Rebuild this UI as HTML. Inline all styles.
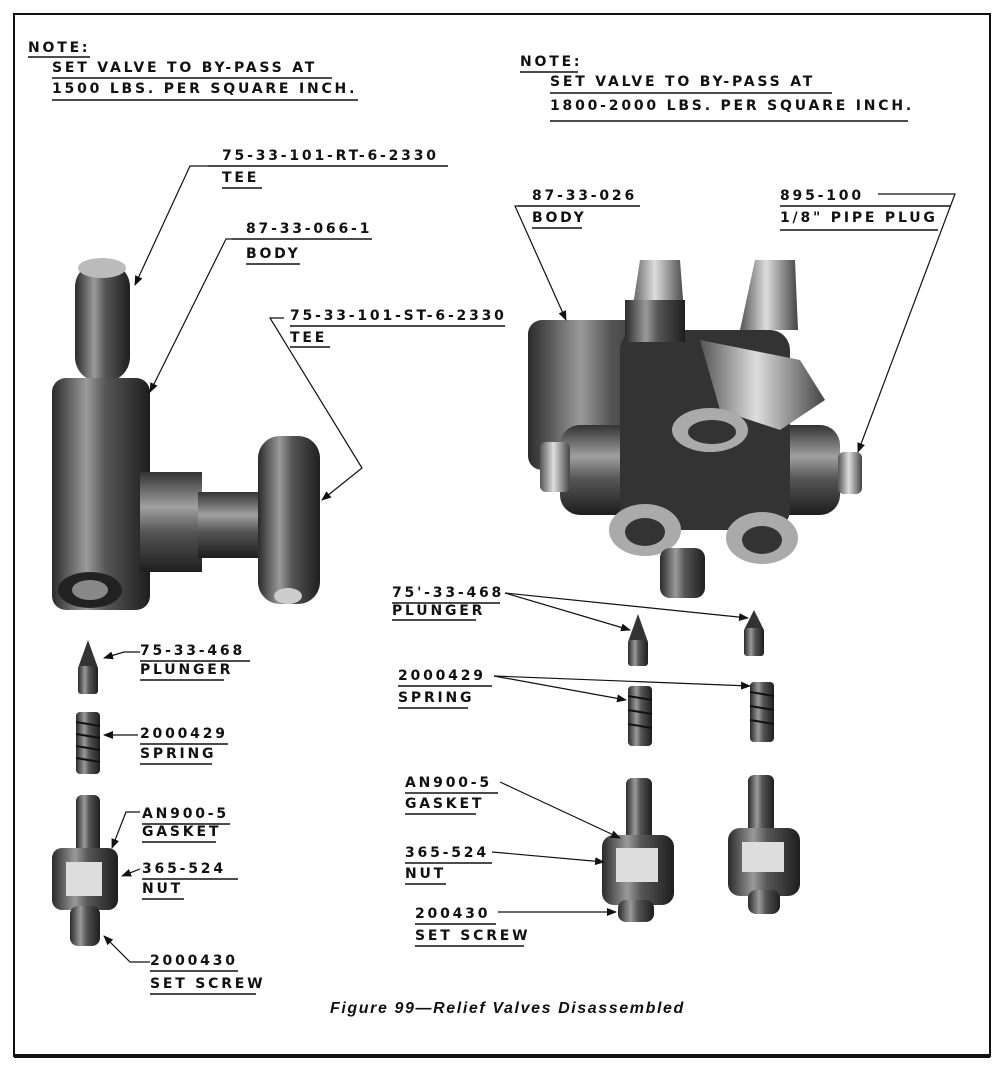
<!DOCTYPE html>
<html><head><meta charset="utf-8"><style>
html,body{margin:0;padding:0;background:#fff}
svg{display:block}
.t{font-family:"DejaVu Sans","Liberation Sans",sans-serif;font-weight:bold;font-size:14px;letter-spacing:2.8px;fill:#111}
.u{stroke:#111;stroke-width:1.6}
.l{stroke:#111;stroke-width:1.2;fill:none}
</style></head><body>
<svg width="1000" height="1091" viewBox="0 0 1000 1091" xmlns="http://www.w3.org/2000/svg">
<defs>
<linearGradient id="gv" x1="0" x2="1" y1="0" y2="0"><stop offset="0" stop-color="#2a2a2a"/><stop offset="0.35" stop-color="#9a9a9a"/><stop offset="0.55" stop-color="#555"/><stop offset="1" stop-color="#1e1e1e"/></linearGradient>
<linearGradient id="gh" x1="0" x2="0" y1="0" y2="1"><stop offset="0" stop-color="#333"/><stop offset="0.35" stop-color="#a0a0a0"/><stop offset="0.6" stop-color="#555"/><stop offset="1" stop-color="#1e1e1e"/></linearGradient>
<linearGradient id="gl" x1="0" x2="1" y1="0" y2="0"><stop offset="0" stop-color="#555"/><stop offset="0.45" stop-color="#ddd"/><stop offset="1" stop-color="#444"/></linearGradient>
<marker id="a" markerWidth="10" markerHeight="8" refX="9" refY="4" orient="auto" markerUnits="userSpaceOnUse"><path d="M0,0 L10,4 L0,8 Z" fill="#111"/></marker>
</defs>
<rect x="14" y="14" width="976" height="1042" fill="#fff" stroke="#111" stroke-width="2"/>
<line x1="14" y1="1056" x2="990" y2="1056" stroke="#111" stroke-width="4"/>

<text class="t" x="28" y="52">NOTE:</text><line class="u" x1="28" y1="57" x2="90" y2="57"/>
<text class="t" x="52" y="72">SET VALVE TO BY-PASS AT</text><line class="u" x1="52" y1="78" x2="332" y2="78"/>
<text class="t" x="52" y="93">1500 LBS. PER SQUARE INCH.</text><line class="u" x1="52" y1="100" x2="358" y2="100"/>

<text class="t" x="520" y="66">NOTE:</text><line class="u" x1="520" y1="72" x2="578" y2="72"/>
<text class="t" x="550" y="86">SET VALVE TO BY-PASS AT</text><line class="u" x1="550" y1="93" x2="832" y2="93"/>
<text class="t" x="550" y="110">1800-2000 LBS. PER SQUARE INCH.</text><line class="u" x1="550" y1="121" x2="908" y2="121"/>

<rect x="75" y="262" width="55" height="120" rx="25" fill="url(#gv)"/>
<ellipse cx="102" cy="268" rx="24" ry="10" fill="#bbb"/>
<rect x="52" y="378" width="98" height="232" rx="14" fill="url(#gv)"/>
<rect x="140" y="472" width="62" height="100" fill="url(#gh)"/>
<rect x="198" y="492" width="65" height="66" fill="url(#gh)"/>
<rect x="258" y="436" width="62" height="168" rx="22" fill="url(#gv)"/>
<ellipse cx="90" cy="590" rx="32" ry="18" fill="#222"/>
<ellipse cx="90" cy="590" rx="18" ry="10" fill="#888"/>
<ellipse cx="288" cy="596" rx="14" ry="8" fill="#ccc"/>

<text class="t" x="222" y="160">75-33-101-RT-6-2330</text><line class="u" x1="208" y1="166" x2="448" y2="166"/>
<text class="t" x="222" y="182">TEE</text><line class="u" x1="222" y1="188" x2="262" y2="188"/>
<polyline class="l" points="208,166 190,166 135,285" marker-end="url(#a)"/>
<text class="t" x="246" y="233">87-33-066-1</text><line class="u" x1="232" y1="239" x2="372" y2="239"/>
<text class="t" x="246" y="258">BODY</text><line class="u" x1="246" y1="264" x2="300" y2="264"/>
<polyline class="l" points="232,239 226,239 150,392" marker-end="url(#a)"/>
<text class="t" x="290" y="320">75-33-101-ST-6-2330</text><line class="u" x1="290" y1="326" x2="505" y2="326"/>
<text class="t" x="290" y="342">TEE</text><line class="u" x1="290" y1="347" x2="330" y2="347"/>
<polyline class="l" points="284,318 270,318 362,468 322,500" marker-end="url(#a)"/>

<path d="M78,668 L88,640 L98,668 Z" fill="#333"/><rect x="78" y="666" width="20" height="28" rx="3" fill="url(#gv)"/>
<rect x="76" y="712" width="24" height="62" rx="4" fill="url(#gv)"/>
<g stroke="#111" stroke-width="2"><line x1="76" y1="722" x2="100" y2="726"/><line x1="76" y1="734" x2="100" y2="738"/><line x1="76" y1="746" x2="100" y2="750"/><line x1="76" y1="758" x2="100" y2="762"/></g>
<rect x="76" y="795" width="24" height="60" rx="6" fill="url(#gv)"/>
<rect x="52" y="848" width="66" height="62" rx="10" fill="url(#gv)"/>
<rect x="66" y="862" width="36" height="34" fill="#ddd"/>
<rect x="70" y="906" width="30" height="40" rx="8" fill="url(#gv)"/>
<text class="t" x="140" y="655">75-33-468</text><line class="u" x1="140" y1="661" x2="250" y2="661"/>
<text class="t" x="140" y="674">PLUNGER</text><line class="u" x1="140" y1="680" x2="224" y2="680"/>
<polyline class="l" points="140,652 124,652 104,658" marker-end="url(#a)"/>
<text class="t" x="140" y="738">2000429</text><line class="u" x1="140" y1="744" x2="228" y2="744"/>
<text class="t" x="140" y="758">SPRING</text><line class="u" x1="140" y1="764" x2="212" y2="764"/>
<line class="l" x1="138" y1="735" x2="104" y2="735" marker-end="url(#a)"/>
<text class="t" x="142" y="818">AN900-5</text><line class="u" x1="142" y1="824" x2="230" y2="824"/>
<text class="t" x="142" y="836">GASKET</text><line class="u" x1="142" y1="842" x2="216" y2="842"/>
<polyline class="l" points="140,812 126,812 112,848" marker-end="url(#a)"/>
<text class="t" x="142" y="873">365-524</text><line class="u" x1="142" y1="879" x2="238" y2="879"/>
<text class="t" x="142" y="893">NUT</text><line class="u" x1="142" y1="899" x2="184" y2="899"/>
<line class="l" x1="140" y1="869" x2="122" y2="876" marker-end="url(#a)"/>
<text class="t" x="150" y="965">2000430</text><line class="u" x1="150" y1="971" x2="238" y2="971"/>
<text class="t" x="150" y="988">SET SCREW</text><line class="u" x1="150" y1="994" x2="256" y2="994"/>
<polyline class="l" points="150,962 130,962 104,936" marker-end="url(#a)"/>

<rect x="528" y="320" width="150" height="150" rx="14" fill="url(#gv)"/>
<rect x="560" y="425" width="280" height="90" rx="20" fill="url(#gh)"/>
<rect x="620" y="330" width="170" height="200" rx="20" fill="#333"/>
<rect x="540" y="442" width="30" height="50" rx="6" fill="url(#gl)"/>
<rect x="838" y="452" width="24" height="42" rx="6" fill="url(#gl)"/>
<path d="M640,260 L680,260 L685,325 L630,325 Z" fill="url(#gl)"/>
<rect x="625" y="300" width="60" height="42" fill="url(#gv)"/>
<path d="M755,260 L795,260 L798,330 L740,330 Z" fill="url(#gl)"/>
<path d="M700,340 L800,360 L825,400 L780,430 L720,410 Z" fill="url(#gl)"/>
<ellipse cx="710" cy="430" rx="38" ry="22" fill="#aaa"/><ellipse cx="712" cy="432" rx="24" ry="12" fill="#333"/>
<ellipse cx="645" cy="530" rx="36" ry="26" fill="#aaa"/><ellipse cx="645" cy="532" rx="20" ry="14" fill="#333"/>
<ellipse cx="762" cy="538" rx="36" ry="26" fill="#aaa"/><ellipse cx="762" cy="540" rx="20" ry="14" fill="#333"/>
<rect x="660" y="548" width="45" height="50" rx="10" fill="url(#gv)"/>

<text class="t" x="532" y="200">87-33-026</text><line class="u" x1="518" y1="206" x2="640" y2="206"/>
<text class="t" x="532" y="222">BODY</text><line class="u" x1="532" y1="228" x2="582" y2="228"/>
<polyline class="l" points="518,206 515,206 566,320" marker-end="url(#a)"/>
<text class="t" x="780" y="200">895-100</text><line class="u" x1="780" y1="206" x2="950" y2="206"/>
<text class="t" x="780" y="222">1/8" PIPE PLUG</text><line class="u" x1="780" y1="230" x2="938" y2="230"/>
<polyline class="l" points="878,194 955,194 858,452" marker-end="url(#a)"/>

<path d="M628,642 L638,614 L648,642 Z" fill="#333"/><rect x="628" y="640" width="20" height="26" rx="3" fill="url(#gv)"/>
<path d="M744,630 L754,610 L764,630 Z" fill="#333"/><rect x="744" y="628" width="20" height="28" rx="3" fill="url(#gv)"/>
<rect x="628" y="686" width="24" height="60" rx="4" fill="url(#gv)"/>
<rect x="750" y="682" width="24" height="60" rx="4" fill="url(#gv)"/>
<g stroke="#111" stroke-width="2"><line x1="628" y1="696" x2="652" y2="700"/><line x1="628" y1="710" x2="652" y2="714"/><line x1="628" y1="724" x2="652" y2="728"/><line x1="750" y1="692" x2="774" y2="696"/><line x1="750" y1="706" x2="774" y2="710"/><line x1="750" y1="720" x2="774" y2="724"/></g>
<rect x="626" y="778" width="26" height="62" rx="6" fill="url(#gv)"/>
<rect x="748" y="775" width="26" height="62" rx="6" fill="url(#gv)"/>
<rect x="602" y="835" width="72" height="70" rx="12" fill="url(#gv)"/>
<rect x="616" y="848" width="42" height="34" fill="#ddd"/>
<rect x="728" y="828" width="72" height="68" rx="12" fill="url(#gv)"/>
<rect x="742" y="842" width="42" height="30" fill="#ddd"/>
<rect x="618" y="900" width="36" height="22" rx="8" fill="url(#gv)"/>
<rect x="748" y="890" width="32" height="24" rx="8" fill="url(#gv)"/>

<text class="t" x="392" y="597">75'-33-468</text><line class="u" x1="392" y1="603" x2="500" y2="603"/>
<text class="t" x="392" y="615">PLUNGER</text><line class="u" x1="392" y1="620" x2="476" y2="620"/>
<line class="l" x1="505" y1="593" x2="630" y2="630" marker-end="url(#a)"/>
<line class="l" x1="505" y1="593" x2="748" y2="618" marker-end="url(#a)"/>
<text class="t" x="398" y="680">2000429</text><line class="u" x1="398" y1="686" x2="492" y2="686"/>
<text class="t" x="398" y="702">SPRING</text><line class="u" x1="398" y1="708" x2="468" y2="708"/>
<line class="l" x1="494" y1="676" x2="626" y2="700" marker-end="url(#a)"/>
<line class="l" x1="494" y1="676" x2="750" y2="686" marker-end="url(#a)"/>
<text class="t" x="405" y="787">AN900-5</text><line class="u" x1="405" y1="793" x2="498" y2="793"/>
<text class="t" x="405" y="808">GASKET</text><line class="u" x1="405" y1="814" x2="476" y2="814"/>
<line class="l" x1="500" y1="782" x2="620" y2="838" marker-end="url(#a)"/>
<text class="t" x="405" y="857">365-524</text><line class="u" x1="405" y1="863" x2="492" y2="863"/>
<text class="t" x="405" y="878">NUT</text><line class="u" x1="405" y1="884" x2="446" y2="884"/>
<line class="l" x1="492" y1="852" x2="604" y2="862" marker-end="url(#a)"/>
<text class="t" x="415" y="918">200430</text><line class="u" x1="415" y1="924" x2="496" y2="924"/>
<text class="t" x="415" y="940">SET SCREW</text><line class="u" x1="415" y1="946" x2="524" y2="946"/>
<line class="l" x1="498" y1="912" x2="616" y2="912" marker-end="url(#a)"/>

<text x="330" y="1013" font-family="Liberation Sans, sans-serif" font-style="italic" font-weight="bold" font-size="16" letter-spacing="1.6" fill="#111">Figure 99—Relief Valves Disassembled</text>
</svg>
</body></html>
